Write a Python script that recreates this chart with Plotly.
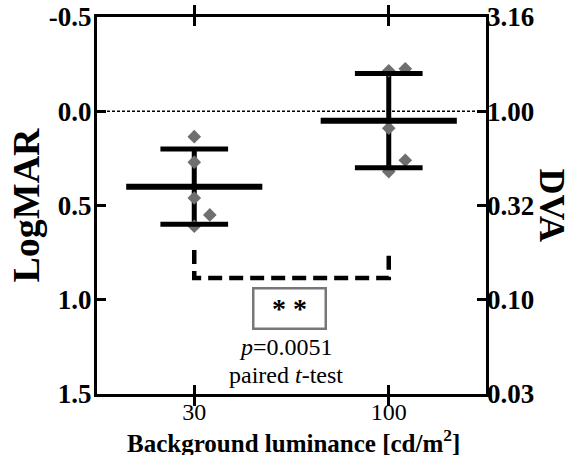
import plotly.graph_objects as go

# ---------------- data ----------------
luminance = ["30", "100"]                      # cd/m^2 categories
logmar_30 = [0.135, 0.27, 0.46, 0.55, 0.61]     # individual LogMAR at 30 cd/m^2
logmar_100 = [-0.215, -0.225, 0.09, 0.26, 0.32] # individual LogMAR at 100 cd/m^2
group_mean = [0.40, 0.05]
group_sd = [0.20, 0.25]
logmar_ticks = [-0.5, 0.0, 0.5, 1.0, 1.5]
p_value = 0.0051

# horizontal jitter of overlapping points (category units)
jitter_30 = [0, 0, 0, 0.08, 0]
jitter_100 = [0, 0.085, 0, 0.085, 0]

FONT = "Liberation Serif"
xpos = [i + 1 for i in range(len(luminance))]
CAP_HW = 0.174
MEAN_HW = 0.35
POINT_COLOR = "#6f6f6f"

fig = go.Figure()

# vertical SD lines (no caps)
fig.add_trace(go.Scatter(
    x=xpos, y=group_mean, mode="markers",
    marker=dict(size=1, color="rgba(0,0,0,0)"),
    error_y=dict(type="data", array=group_sd, visible=True, color="black",
                 thickness=5, width=0),
    showlegend=False, hoverinfo="skip"))

# individual points
for i, (vals, jit) in enumerate([(logmar_30, jitter_30), (logmar_100, jitter_100)]):
    fig.add_trace(go.Scatter(
        x=[xpos[i] + j for j in jit], y=vals, mode="markers",
        marker=dict(symbol="diamond", size=10.5, color=POINT_COLOR),
        showlegend=False, hoverinfo="skip"))

# caps and mean bars
for i in range(len(xpos)):
    for yv in (group_mean[i] - group_sd[i], group_mean[i] + group_sd[i]):
        fig.add_trace(go.Scatter(
            x=[xpos[i] - CAP_HW, xpos[i] + CAP_HW], y=[yv, yv], mode="lines",
            line=dict(color="black", width=5), showlegend=False, hoverinfo="skip"))
    fig.add_trace(go.Scatter(
        x=[xpos[i] - MEAN_HW, xpos[i] + MEAN_HW], y=[group_mean[i]] * 2, mode="lines",
        line=dict(color="black", width=6), showlegend=False, hoverinfo="skip"))

# significance bracket
BR_TOP, BR_BOT = 0.736, 0.885
fig.add_trace(go.Scatter(
    x=[xpos[0], xpos[0], xpos[1], xpos[1]], y=[BR_TOP, BR_BOT, BR_BOT, BR_TOP],
    mode="lines", line=dict(color="black", width=4.5, dash="14px,7px"),
    showlegend=False, hoverinfo="skip"))

# invisible trace binding the right (DVA) axis
fig.add_trace(go.Scatter(
    x=xpos, y=group_mean, yaxis="y2", mode="markers",
    marker=dict(size=1, color="rgba(0,0,0,0)"), showlegend=False, hoverinfo="skip"))

# dotted reference line at LogMAR 0
fig.add_shape(type="line", xref="paper", x0=0, x1=1, yref="y", y0=0, y1=0,
              line=dict(color="black", width=1.5, dash="3px,2px"), layer="below")

axis_common = dict(showgrid=False, zeroline=False, color="black", automargin=False)
fig.update_layout(
    width=571, height=455,
    margin=dict(l=97, r=85, t=17, b=61),
    paper_bgcolor="white", plot_bgcolor="white",
    font=dict(family=FONT, color="black"),
    xaxis=dict(
        range=[0.5, 2.5], tickmode="array", tickvals=xpos, ticktext=luminance,
        ticks="inside", ticklen=9, tickwidth=3, showline=True, linewidth=3,
        linecolor="black", mirror="allticks",
        tickfont=dict(family=FONT, size=24, color="black"), ticklabelstandoff=-6,
        **axis_common),
    yaxis=dict(
        range=[1.5, -0.5], tickmode="array", tickvals=logmar_ticks,
        ticktext=[f"{v:.1f}" for v in logmar_ticks],
        ticks="inside", ticklen=9, tickwidth=3, showline=True, linewidth=3,
        linecolor="black", mirror="allticks", ticklabelstandoff=-3,
        tickfont=dict(family=FONT, size=27, color="black", weight="bold"),
        **axis_common),
    yaxis2=dict(
        overlaying="y", side="right", range=[1.5, -0.5], tickmode="array",
        tickvals=logmar_ticks, ticktext=[f"{10 ** (-v):.2f}" for v in logmar_ticks],
        ticks="", showline=False,
        tickfont=dict(family=FONT, size=27, color="black", weight="bold"),
        **axis_common),
)

annotations = [
    dict(text="<b>LogMAR</b>", xref="paper", yref="paper", x=-0.185, y=0.5,
         textangle=-90, showarrow=False, font=dict(family=FONT, size=38, color="black"),
         xanchor="center", yanchor="middle"),
    dict(text="<b>DVA</b>", xref="paper", yref="paper", x=1.172, y=0.5,
         textangle=90, showarrow=False, font=dict(family=FONT, size=36, color="black"),
         xanchor="center", yanchor="middle"),
    dict(text="<b>Background luminance [cd/m<sup>2</sup>]</b>", xref="paper", yref="paper",
         x=0.504, y=-0.124, showarrow=False, font=dict(family=FONT, size=25, color="black"),
         xanchor="center", yanchor="middle"),
    dict(text="<b>* *</b>", xref="x", yref="y", x=1.49, y=1.044, showarrow=False,
         font=dict(family=FONT, size=28, color="black"), bordercolor="#777777",
         borderwidth=2.5, borderpad=0, width=70, height=38, align="center", valign="middle"),
    dict(text=f"<i>p</i>={p_value}", xref="x", yref="y", x=1.47, y=1.25, showarrow=False,
         font=dict(family=FONT, size=24, color="black")),
    dict(text="paired <i>t</i>-test", xref="x", yref="y", x=1.47, y=1.40, showarrow=False,
         font=dict(family=FONT, size=24, color="black")),
]
fig.update_layout(annotations=annotations)

fig.write_html("out.html")
